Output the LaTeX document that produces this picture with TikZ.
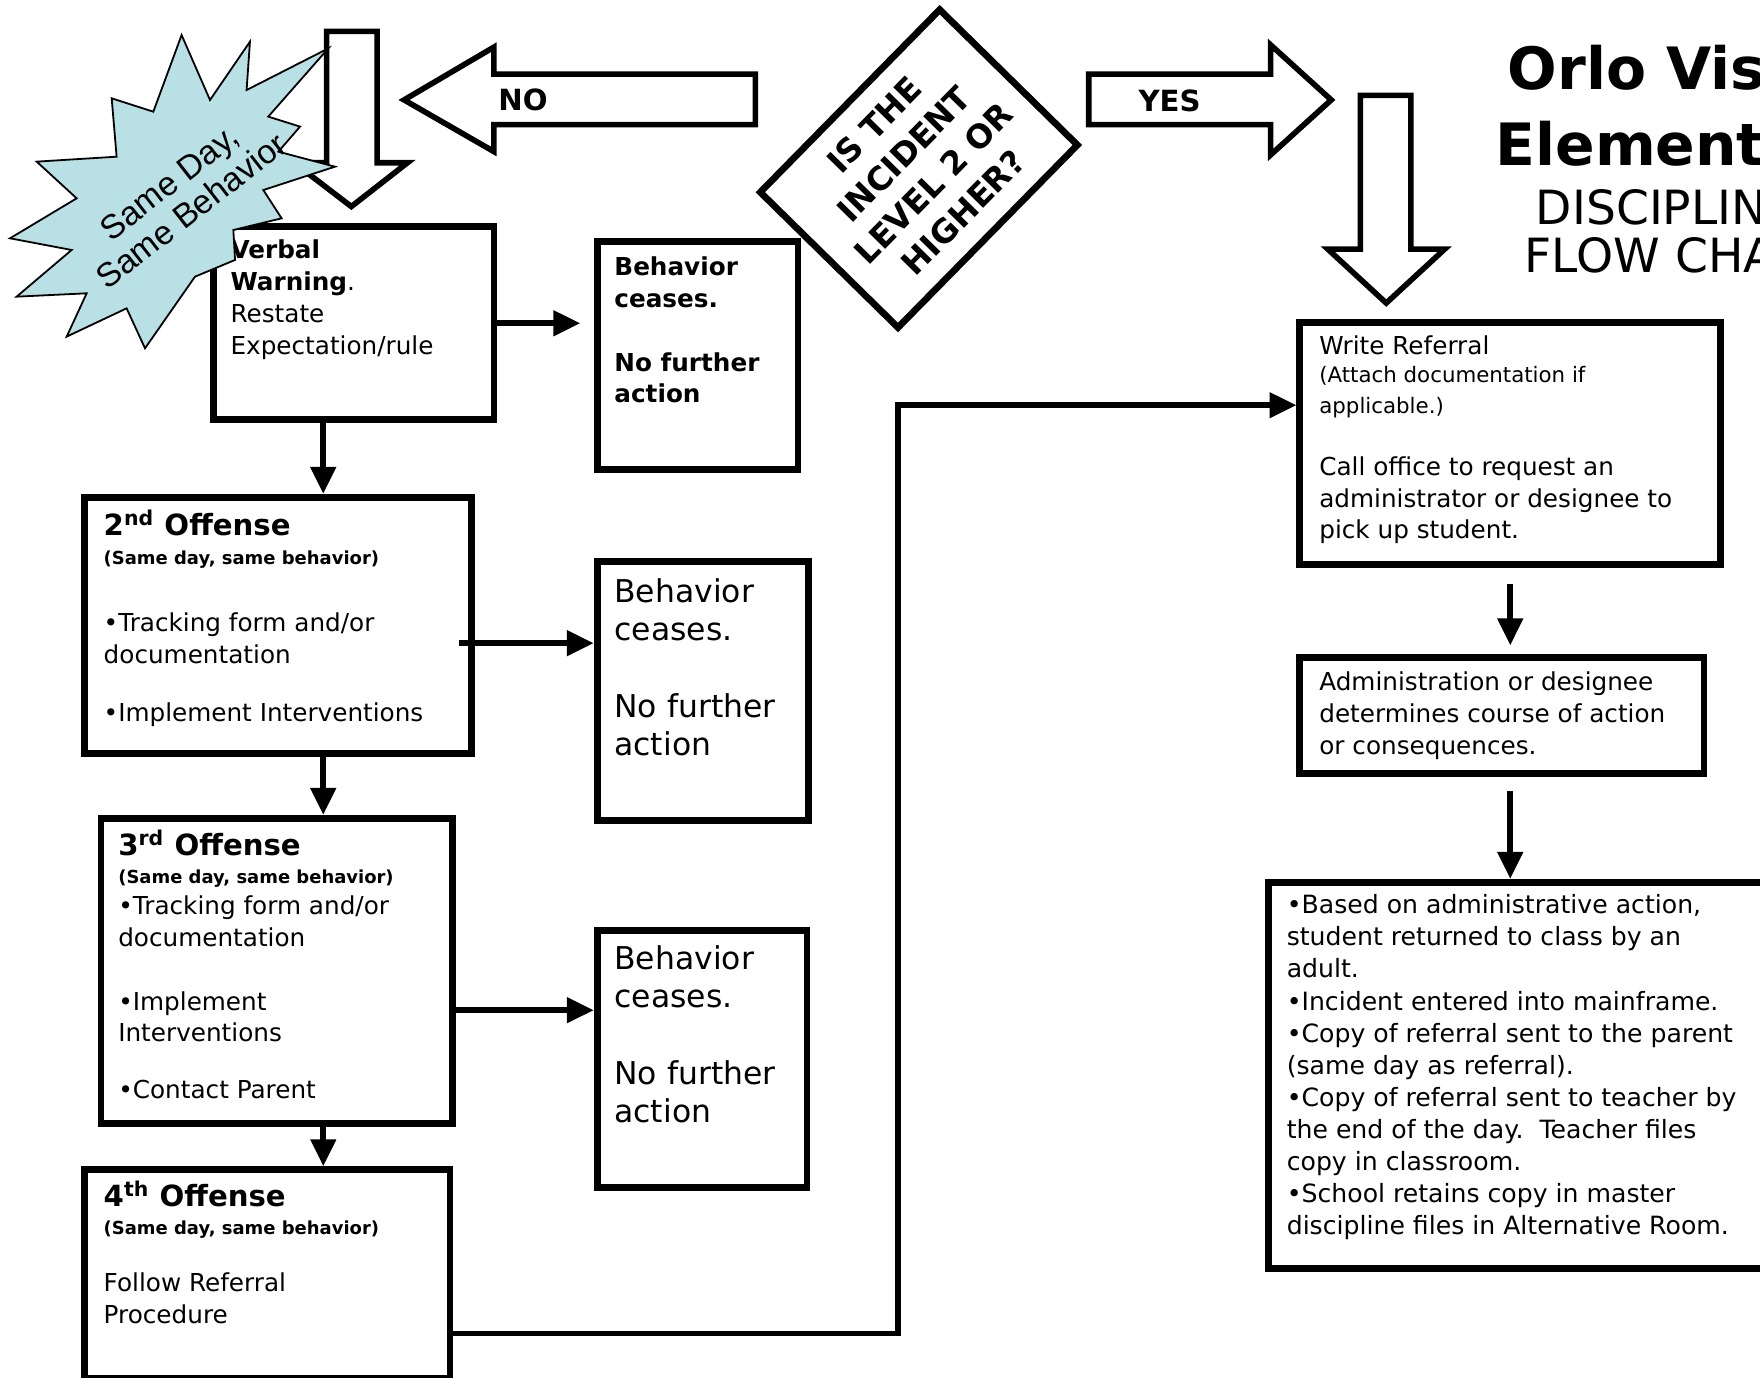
\documentclass[tikz,border=0pt]{standalone}
\usepackage{fontspec}
\setmainfont{DejaVu Sans}
\newfontfamily\burstfont{Liberation Sans}
\usetikzlibrary{arrows.meta}

\definecolor{burstblue}{RGB}{185,224,228}

\begin{document}
\begin{tikzpicture}
    [x=0.5pt,y=-0.5pt,
     boxstyle/.style={draw=black,line width=3pt,inner sep=0pt,anchor=north west},
     textstyle/.style={inner sep=0pt,anchor=base west,align=left},
     blockarrow/.style={draw=black,line width=2.5pt,fill=white,line join=miter},
     flowline/.style={draw=black,line width=2.5pt,line join=miter,-{Triangle[length=12pt,width=11pt]}},
     titlestyle/.style={inner sep=0pt,anchor=base west}]

    \useasboundingbox (0,0) rectangle (1568,1227);
    \clip (0,0) rectangle (1568,1227);

    % block arrows
    \draw [blockarrow] (291,28) -- (336,28) -- (336,145) -- (363,145) -- (313,184) -- (262,145) -- (291,145) -- cycle;
    \draw [blockarrow] (673,66) -- (440,66) -- (440,42) -- (360,89) -- (440,135) -- (440,111) -- (673,111) -- cycle;
    \draw [blockarrow] (970,66) -- (1132,66) -- (1132,40) -- (1186,89) -- (1132,138) -- (1132,111) -- (970,111) -- cycle;
    \draw [blockarrow] (1212,85) -- (1257,85) -- (1257,222) -- (1287,222) -- (1235,270) -- (1183,222) -- (1212,222) -- cycle;
    \node [inner sep=0pt,font=\fontsize{13}{15}\selectfont\bfseries] (no) at (466,89) {NO};
    \node [inner sep=0pt,font=\fontsize{13}{15}\selectfont\bfseries] (yes) at (1042,90) {YES};

    % question
    \node [draw=black,line width=3pt,fill=white,rotate=45.5,minimum width=114pt,minimum height=86pt,
           align=center,font=\fontsize{14.5}{18.5}\selectfont\bfseries] (level) at (818.6,150.2)
          {IS THE\\INCIDENT\\LEVEL 2 OR\\HIGHER?};

    % title
    \node [titlestyle,font=\fontsize{26}{30}\selectfont\bfseries] (title1) at (1343,80) {Orlo Vista};
    \node [titlestyle,font=\fontsize{26}{30}\selectfont\bfseries] (title2) at (1332,147) {Elementary};
    \node [titlestyle,font=\fontsize{21}{25}\selectfont] (title3) at (1368,200) {DISCIPLINE};
    \node [titlestyle,font=\fontsize{21}{25}\selectfont] (title4) at (1358,243) {FLOW CHART};

    % left column
    \coordinate (spine) at (288,0);
    \node [boxstyle,minimum width=125pt,minimum height=86pt] (vw) at (187,199) {};
    \node [textstyle,font=\fontsize{11}{14.3}\selectfont] (vwtext) at ([shift={(18,117)}]vw.north west)
          {\textbf{Verbal}\\\textbf{Warning}.\\Restate\\Expectation/rule};

    \node [boxstyle,minimum width=172.5pt,minimum height=114pt] (o2) at (72,440) {};
    \node [textstyle,font=\fontsize{11}{14}\selectfont] (o2text) at ([shift={(20,203)}]o2.north west)
          {{\fontsize{13}{14}\selectfont\bfseries 2\textsuperscript{nd} Offense}\\[-1pt]
           {\fontsize{8}{9}\selectfont\bfseries (Same day, same behavior)}\\[16pt]
           •Tracking form and/or\\documentation\\[12pt]
           •Implement Interventions};

    \node [boxstyle,minimum width=156.5pt,minimum height=136pt] (o3) at (87,726) {};
    \node [textstyle,font=\fontsize{11}{14}\selectfont] (o3text) at ([shift={(18,253)}]o3.north west)
          {{\fontsize{13}{14}\selectfont\bfseries 3\textsuperscript{rd} Offense}\\[-1.5pt]
           {\fontsize{8}{9}\selectfont\bfseries (Same day, same behavior)}\\
           •Tracking form and/or\\documentation\\[14.5pt]
           •Implement\\Interventions\\[11.5pt]
           •Contact Parent};

    \node [boxstyle,minimum width=163pt,minimum height=93pt] (o4) at (72,1039) {};
    \node [textstyle,font=\fontsize{11}{14}\selectfont] (o4text) at ([shift={(20,140)}]o4.north west)
          {{\fontsize{13}{14}\selectfont\bfseries 4\textsuperscript{th} Offense}\\[-1.5pt]
           {\fontsize{8}{9}\selectfont\bfseries (Same day, same behavior)}\\[11.5pt]
           Follow Referral\\Procedure};

    % behavior ceases
    \node [boxstyle,minimum width=89.5pt,minimum height=101.5pt] (bc1) at (529,212) {};
    \node [textstyle,font=\fontsize{11}{14.2}\selectfont\bfseries] (bc1text) at ([shift={(18,147)}]bc1.north west)
          {Behavior\\ceases.\\[14.2pt]No further\\action};

    \node [boxstyle,minimum width=94pt,minimum height=115.5pt] (bc2) at (529,497) {};
    \node [textstyle,font=\fontsize{14}{17}\selectfont] (bc2text) at ([shift={(18,176)}]bc2.north west)
          {Behavior\\ceases.\\[17pt]No further\\action};

    \node [boxstyle,minimum width=93.5pt,minimum height=114.5pt] (bc3) at (529,826) {};
    \node [textstyle,font=\fontsize{14}{17}\selectfont] (bc3text) at ([shift={(18,174)}]bc3.north west)
          {Behavior\\ceases.\\[17pt]No further\\action};

    % right column
    \node [boxstyle,minimum width=187.5pt,minimum height=108pt] (wr) at (1155,284) {};
    \node [textstyle,font=\fontsize{11}{14}\selectfont] (wrtext) at ([shift={(20,196)}]wr.north west)
          {Write Referral\\[-1.5pt]
           {\fontsize{9.5}{11}\selectfont (Attach documentation if}\\[-0.5pt]
           {\fontsize{9.5}{11}\selectfont applicable.)}\\[14pt]
           Call office to request an\\administrator or designee to\\pick up student.};

    \node [boxstyle,minimum width=180pt,minimum height=51.5pt] (ad) at (1155,583) {};
    \node [textstyle,font=\fontsize{11}{14.3}\selectfont] (adtext) at ([shift={(20,89)}]ad.north west)
          {Administration or designee\\determines course of action\\or consequences.};

    \node [boxstyle,minimum width=226.5pt,minimum height=172pt] (fin) at (1127,783) {};
    \node [textstyle,font=\fontsize{11.2}{14.3}\selectfont] (fintext) at ([shift={(19,317)}]fin.north west)
          {•Based on administrative action,\\student returned to class by an\\adult.\\
           •Incident entered into mainframe.\\
           •Copy of referral sent to the parent\\(same day as referral).\\
           •Copy of referral sent to teacher by\\the end of the day.\ \ Teacher files\\copy in classroom.\\
           •School retains copy in master\\discipline files in Alternative Room.};

    % connectors
    \coordinate (route) at (800,700);
    \draw [flowline,shorten >=6pt] (vw.east) -- (vw.east -| bc1.west);
    \draw [flowline] (vw.south -| spine) -- (o2.north -| spine);
    \draw [flowline] ([shift={(-14,16)}]o2.east) -- ([shift={(0,16)}]o2.east -| bc2.west);
    \draw [flowline] (o2.south -| spine) -- (o3.north -| spine);
    \draw [flowline] ([shift={(0,35)}]o3.east) -- ([shift={(0,35)}]o3.east -| bc3.west);
    \draw [flowline] (o3.south -| spine) -- (o4.north -| spine);
    \draw [flowline] ([shift={(0,53)}]o4.east) -| (route) |- ([shift={(0,-34)}]wr.west);
    \draw [flowline,shorten <=7pt,shorten >=4pt] (wr.south) -- (wr.south |- ad.north);
    \draw [flowline,shorten <=6.5pt] (ad.south -| wr.south) -- (wr.south |- fin.north);

    % same day, same behavior
    \draw [draw=black,line width=0.8pt,fill=burstblue,line join=miter]
        (161.8,31.2) -- (187.1,89.1) -- (222.7,37.1) -- (219.7,80.2) -- (292.5,43.1) -- (239.0,103.9)
        -- (267.3,112.8) -- (248.0,135.1) -- (298.4,148.5) -- (234.6,169.3) -- (250.9,194.5)
        -- (207.9,204.9) -- (209.4,231.6) -- (173.7,246.5) -- (129.2,310.3) -- (112.8,274.7)
        -- (59.4,299.9) -- (77.2,261.3) -- (14.8,264.3) -- (63.8,222.7) -- (8.9,212.3)
        -- (68.3,176.7) -- (32.7,144.0) -- (103.9,139.6) -- (99.5,87.6) -- (136.6,99.5) -- cycle;
    \node [inner sep=0pt,rotate=38,align=center,font=\burstfont\fontsize{15}{16}\selectfont] (burst) at (160.4,175.2)
          {Same Day,\\Same Behavior};
\end{tikzpicture}
\end{document}
